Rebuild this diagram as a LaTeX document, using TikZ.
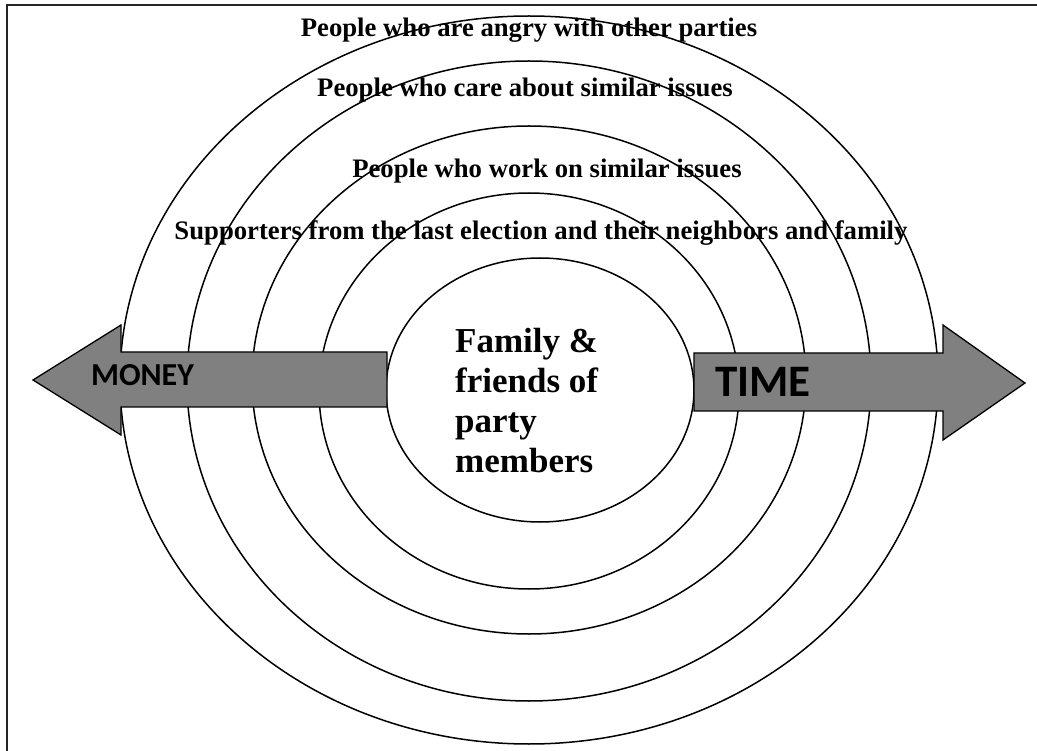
\documentclass[tikz,border=0pt]{standalone}
\usepackage{fontspec}
\setmainfont{Liberation Serif}
\newfontfamily\calib{Carlito}
\definecolor{arrowgray}{HTML}{808080}
\begin{document}
\begin{tikzpicture}[x=1pt,y=-1pt,
  ring/.style={draw=black,line width=1.5pt},
  arr/.style={draw=black,fill=arrowgray,line width=1.3pt,line join=miter},
  lbl/.style={font=\fontsize{26.7}{30}\selectfont\bfseries,anchor=base,inner sep=0pt},
  arrlbl/.style={inner sep=0pt,anchor=base}]
\useasboundingbox (0,0) rectangle (1037,751);
\draw[line width=2pt,draw=black!85] (7,5) rectangle (1050,765);
% rings
\draw[ring] (529,380) ellipse [x radius=409, y radius=364];
\draw[ring] (529,381) ellipse [x radius=342, y radius=320];
\draw[ring] (529,380) ellipse [x radius=277, y radius=254];
\draw[ring] (529,391) ellipse [x radius=210, y radius=198];
\draw[ring] (540,390) ellipse [x radius=154, y radius=132];
% arrows
\draw[arr] (387,352) -- (121,352) -- (121,325) -- (33,380) -- (121,435) -- (121,407) -- (387,407) -- cycle;
\draw[arr] (694,353) -- (943,353) -- (943,325) -- (1025,383) -- (943,440) -- (943,411) -- (694,411) -- cycle;
\node[arrlbl,font=\calib\bfseries\fontsize{32}{36}\selectfont] (money) at (142.5,386) {MONEY};
\node[arrlbl,anchor=base west,font=\calib\bfseries\fontsize{45}{50}\selectfont] (time) at (715,397) {TIME};
% labels
\node[lbl] (t1) at (529,37) {People who are angry with other parties};
\node[lbl] (t2) at (525,97) {People who care about similar issues};
\node[lbl] (t3) at (547,178) {People who work on similar issues};
\node[lbl] (t4) at (541,240) {Supporters from the last election and their neighbors and family};
\node[anchor=base west,align=left,inner sep=0pt,font=\fontsize{35}{40}\selectfont\bfseries] (fam) at (455,472) {Family \&\\friends of\\party\\members};
\end{tikzpicture}
\end{document}
